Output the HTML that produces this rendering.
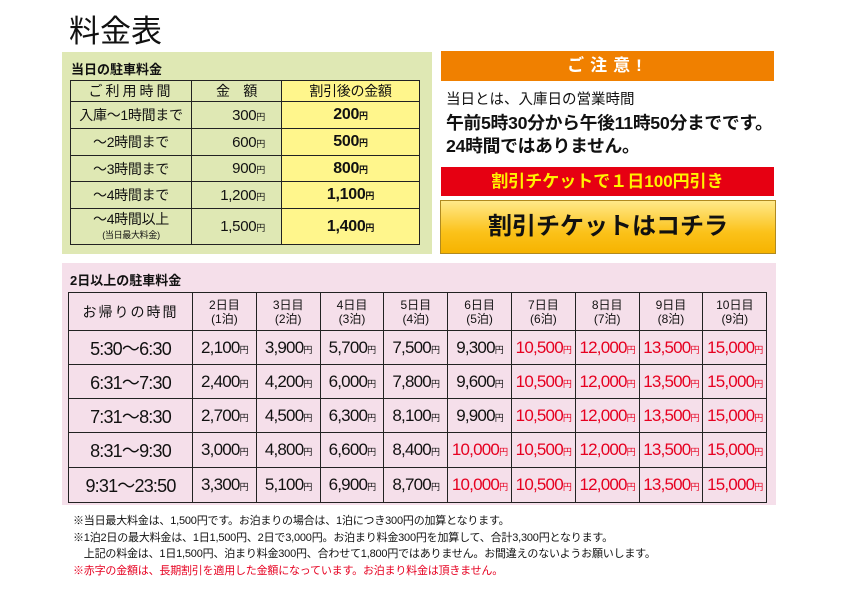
<!DOCTYPE html>
<html><head><meta charset="utf-8"><style>
*{margin:0;padding:0;box-sizing:border-box}
body{width:842px;height:595px;background:#fff;position:relative;overflow:hidden;font-family:"Liberation Sans","Noto Sans CJK JP",sans-serif;color:#111}
.a{position:absolute}
table{border-collapse:collapse;table-layout:fixed;position:absolute}
td{border:1px solid #222;text-align:center;padding:0;white-space:nowrap}
.y{font-size:9px}
.r{color:#e60020}
#t1 td{font-size:14px;letter-spacing:-0.3px}
#t2 td{font-size:17px;letter-spacing:-0.8px}
#t2 tr.h td{font-size:12px;line-height:14px;letter-spacing:0}
</style></head><body>
<div class="a" style="left:69px;top:6px;font-size:31px">料金表</div>

<div class="a" style="left:62px;top:52px;width:370px;height:202px;background:#dfe8b4"></div>
<div class="a" style="left:71px;top:59px;font-size:13px;font-weight:bold">当日の駐車料金</div>
<table id="t1" style="left:70px;top:80px;width:349px">
<col style="width:121px"><col style="width:90px"><col style="width:138px">
<tr style="height:20px"><td style="letter-spacing:3px">ご利用時間</td><td>金　額</td><td style="background:#fff68c">割引後の金額</td></tr>
<tr style="height:27px"><td>入庫〜1時間まで</td><td style="text-align:right;padding-right:16px;font-size:15px">300<span class="y">円</span></td><td style="background:#fff68c;font-weight:bold;font-size:16px">200<span class="y">円</span></td></tr>
<tr style="height:27px"><td>〜2時間まで</td><td style="text-align:right;padding-right:16px;font-size:15px">600<span class="y">円</span></td><td style="background:#fff68c;font-weight:bold;font-size:16px">500<span class="y">円</span></td></tr>
<tr style="height:26px"><td>〜3時間まで</td><td style="text-align:right;padding-right:16px;font-size:15px">900<span class="y">円</span></td><td style="background:#fff68c;font-weight:bold;font-size:16px">800<span class="y">円</span></td></tr>
<tr style="height:27px"><td>〜4時間まで</td><td style="text-align:right;padding-right:16px;font-size:15px">1,200<span class="y">円</span></td><td style="background:#fff68c;font-weight:bold;font-size:16px">1,100<span class="y">円</span></td></tr>
<tr style="height:36px"><td style="line-height:14px">〜4時間以上<br><span style="font-size:9px">(当日最大料金)</span></td><td style="text-align:right;padding-right:16px;font-size:15px">1,500<span class="y">円</span></td><td style="background:#fff68c;font-weight:bold;font-size:16px">1,400<span class="y">円</span></td></tr>
</table>

<div class="a" style="left:441px;top:51px;width:333px;height:30px;background:#f08000;color:#fff;font-size:17px;font-weight:bold;text-align:center;line-height:30px;letter-spacing:6px">ご注意!</div>
<div class="a" style="left:446px;top:88px;font-size:14.5px">当日とは、入庫日の営業時間</div>
<div class="a" style="left:446px;top:109px;font-size:17.8px;font-weight:bold;letter-spacing:-0.3px">午前5時30分から午後11時50分までです。</div>
<div class="a" style="left:446px;top:132px;font-size:17.8px;font-weight:bold;letter-spacing:-0.3px">24時間ではありません。</div>
<div class="a" style="left:441px;top:167px;width:333px;height:29px;background:#e60012;color:#fff200;font-size:17px;font-weight:bold;text-align:center;line-height:29px">割引チケットで１日100円引き</div>
<div class="a" style="left:440px;top:200px;width:336px;height:54px;background:linear-gradient(#ffe98a,#fbc21a 60%,#f6b300);border:1px solid #b08a20;font-size:24px;font-weight:bold;text-align:center;line-height:52px">割引チケットはコチラ</div>

<div class="a" style="left:62px;top:263px;width:714px;height:242px;background:#f5dfea"></div>
<div class="a" style="left:70px;top:270px;font-size:13px;font-weight:bold">2日以上の駐車料金</div>
<table id="t2" style="left:68px;top:292px;width:698px">
<col style="width:124px"><col span="9" style="width:63.8px">
<tr class="h" style="height:38px"><td style="font-size:14px;letter-spacing:2px">お帰りの時間</td><td>2日目<br>(1泊)</td><td>3日目<br>(2泊)</td><td>4日目<br>(3泊)</td><td>5日目<br>(4泊)</td><td>6日目<br>(5泊)</td><td>7日目<br>(6泊)</td><td>8日目<br>(7泊)</td><td>9日目<br>(8泊)</td><td>10日目<br>(9泊)</td></tr>
<tr style="height:34px"><td style="font-size:18px">5:30〜6:30</td><td>2,100<span class="y">円</span></td><td>3,900<span class="y">円</span></td><td>5,700<span class="y">円</span></td><td>7,500<span class="y">円</span></td><td>9,300<span class="y">円</span></td><td class="r">10,500<span class="y">円</span></td><td class="r">12,000<span class="y">円</span></td><td class="r">13,500<span class="y">円</span></td><td class="r">15,000<span class="y">円</span></td></tr>
<tr style="height:34px"><td style="font-size:18px">6:31〜7:30</td><td>2,400<span class="y">円</span></td><td>4,200<span class="y">円</span></td><td>6,000<span class="y">円</span></td><td>7,800<span class="y">円</span></td><td>9,600<span class="y">円</span></td><td class="r">10,500<span class="y">円</span></td><td class="r">12,000<span class="y">円</span></td><td class="r">13,500<span class="y">円</span></td><td class="r">15,000<span class="y">円</span></td></tr>
<tr style="height:34px"><td style="font-size:18px">7:31〜8:30</td><td>2,700<span class="y">円</span></td><td>4,500<span class="y">円</span></td><td>6,300<span class="y">円</span></td><td>8,100<span class="y">円</span></td><td>9,900<span class="y">円</span></td><td class="r">10,500<span class="y">円</span></td><td class="r">12,000<span class="y">円</span></td><td class="r">13,500<span class="y">円</span></td><td class="r">15,000<span class="y">円</span></td></tr>
<tr style="height:35px"><td style="font-size:18px">8:31〜9:30</td><td>3,000<span class="y">円</span></td><td>4,800<span class="y">円</span></td><td>6,600<span class="y">円</span></td><td>8,400<span class="y">円</span></td><td class="r">10,000<span class="y">円</span></td><td class="r">10,500<span class="y">円</span></td><td class="r">12,000<span class="y">円</span></td><td class="r">13,500<span class="y">円</span></td><td class="r">15,000<span class="y">円</span></td></tr>
<tr style="height:35px"><td style="font-size:18px">9:31〜23:50</td><td>3,300<span class="y">円</span></td><td>5,100<span class="y">円</span></td><td>6,900<span class="y">円</span></td><td>8,700<span class="y">円</span></td><td class="r">10,000<span class="y">円</span></td><td class="r">10,500<span class="y">円</span></td><td class="r">12,000<span class="y">円</span></td><td class="r">13,500<span class="y">円</span></td><td class="r">15,000<span class="y">円</span></td></tr>
</table>

<div class="a" style="left:73px;top:513px;font-size:11px;line-height:16.5px;letter-spacing:-0.2px">
※当日最大料金は、1,500円です。お泊まりの場合は、1泊につき300円の加算となります。<br>
※1泊2日の最大料金は、1日1,500円、2日で3,000円。お泊まり料金300円を加算して、合計3,300円となります。<br>
　上記の料金は、1日1,500円、泊まり料金300円、合わせて1,800円ではありません。お間違えのないようお願いします。<br>
<span style="color:#e60020">※赤字の金額は、長期割引を適用した金額になっています。お泊まり料金は頂きません。</span>
</div>
</body></html>
